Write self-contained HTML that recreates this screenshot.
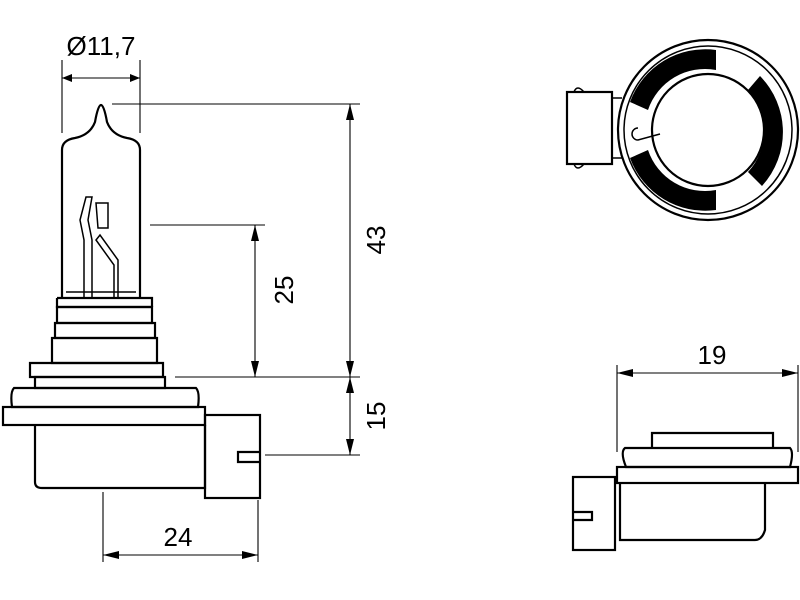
<!DOCTYPE html>
<html><head><style>body{margin:0;background:#fff}svg{display:block}</style></head><body>
<svg width="800" height="600" viewBox="0 0 800 600" xmlns="http://www.w3.org/2000/svg" font-family="Liberation Sans, sans-serif">
<defs><marker id="a" markerWidth="10" markerHeight="8" refX="10" refY="4" orient="auto-start-reverse" markerUnits="userSpaceOnUse"><path d="M0,0 L10,4 L0,8 Z" fill="#000"/></marker>
<marker id="b" markerWidth="16" markerHeight="8" refX="16" refY="4" orient="auto-start-reverse" markerUnits="userSpaceOnUse"><path d="M0,0 L16,4 L0,8 Z" fill="#000"/></marker></defs>
<g fill="none" stroke="#000" stroke-width="2.2">
<path d="M62,298 L62,150 Q62,140 75,138 Q90,135 95,122 Q98,105 101,105 Q104,105 107,122 Q112,135 127,138 Q140,140 140,150 L140,298"/>
<path d="M57,298 H152 V307 M57,298 V307 H152" />
<rect x="57" y="307" width="95" height="16"/>
<rect x="55" y="323" width="100" height="15"/>
<rect x="52" y="338" width="105" height="25"/>
<path d="M30,363 H163 V377 H30 Z"/>
<rect x="35" y="377" width="130" height="11"/>
<path d="M14,388 H196 Q200,392 198,407 H12 Q10,392 14,388 Z"/>
<rect x="3" y="407" width="202" height="18"/>
<path d="M35,425 V482 Q35,488 42,488 H205 V425"/>
<rect x="205" y="415" width="55" height="83"/>
<path d="M260,452 H238 V462 H260"/>
<g stroke-width="1.5"><path d="M84,298 V240 L80,220 L86,197 H92 L88,220 L92,240 V298"/><path d="M96,203 H108 V228 H98 Z"/><path d="M114,298 V265 L96,240 L100,235 L118,260 V298"/><path d="M66,292 H136"/></g>
<circle cx="708" cy="130" r="90"/>
<circle cx="708" cy="130" r="84" stroke-width="1.5"/>
<circle cx="708" cy="130" r="56"/>
<rect x="567" y="92" width="45" height="72"/>
<path d="M574,92 q3,-8 10,0 M574,164 q3,8 10,0" stroke-width="1.5"/>
<path d="M612,98 L622,98 M612,158 L622,158" stroke-width="1.5"/>
<path d="M638,128 a6,6 0 1,0 0,12 L660,134" stroke-width="1.5"/>
</g>
<g fill="#000">
<path d="M716,50 A80,80 0 0,0 630,102 L648,110 A60,60 0 0,1 716,70 Z"/>
<path d="M630,158 A80,80 0 0,0 716,210 L716,190 A60,60 0 0,1 648,150 Z"/>
<path d="M760,76 A80,80 0 0,1 762,186 L748,172 A60,60 0 0,0 748,90 Z"/>
</g>
<g fill="none" stroke="#000" stroke-width="2.2">
<path d="M652,448 V433 H773 V448"/>
<path d="M625,448 H790 Q794,452 790,467 H626 Q620,452 625,448 Z"/>
<rect x="617" y="467" width="181" height="16"/>
<path d="M620,483 V540 H755 Q762,540 765,530 V483"/>
<rect x="573" y="477" width="42" height="73"/>
<path d="M573,512 H592 V520 H573"/>
</g>
<g stroke="#000" stroke-width="1.1" fill="none">
<line x1="62" y1="60" x2="62" y2="133"/><line x1="140" y1="60" x2="140" y2="133"/>
<line x1="62" y1="78" x2="140" y2="78" marker-start="url(#a)" marker-end="url(#a)"/>
<line x1="112" y1="104" x2="360" y2="104"/>
<line x1="150" y1="225" x2="265" y2="225"/>
<line x1="175" y1="377" x2="360" y2="377"/>
<line x1="265" y1="455" x2="360" y2="455"/>
<line x1="255" y1="225" x2="255" y2="377" marker-start="url(#b)" marker-end="url(#b)"/>
<line x1="350" y1="104" x2="350" y2="377" marker-start="url(#b)" marker-end="url(#b)"/>
<line x1="350" y1="377" x2="350" y2="455" marker-start="url(#b)" marker-end="url(#b)"/>
<line x1="103" y1="492" x2="103" y2="562"/><line x1="258" y1="500" x2="258" y2="562"/>
<line x1="103" y1="555" x2="258" y2="555" marker-start="url(#b)" marker-end="url(#b)"/>
<line x1="617" y1="365" x2="617" y2="452"/><line x1="798" y1="365" x2="798" y2="452"/>
<line x1="617" y1="373" x2="798" y2="373" marker-start="url(#b)" marker-end="url(#b)"/>
</g>
<g font-size="26" fill="#000">
<text x="101" y="55" text-anchor="middle">Ø11,7</text>
<text x="178" y="546" text-anchor="middle">24</text>
<text x="712" y="364" text-anchor="middle">19</text>
<text transform="translate(385,240) rotate(-90)" text-anchor="middle">43</text>
<text transform="translate(293,290) rotate(-90)" text-anchor="middle">25</text>
<text transform="translate(385,416) rotate(-90)" text-anchor="middle">15</text>
</g>
</svg>
</body></html>
